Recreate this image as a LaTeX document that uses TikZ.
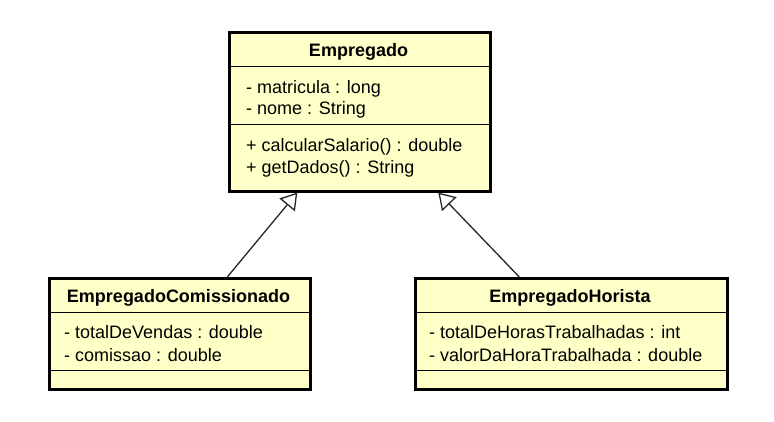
\documentclass[tikz,border=0pt]{standalone}
\usepackage{fontspec}
\setmainfont{Liberation Sans}
\usetikzlibrary{arrows.meta,calc}
\definecolor{classfill}{RGB}{255,255,200}
\tikzset{
  classbox/.style={draw=black, line width=2.6pt, fill=classfill, inner sep=0pt, anchor=north west},
  divider/.style={draw=black, line width=1pt},
  classtitle/.style={font=\fontsize{18}{21}\selectfont\bfseries, anchor=base, inner sep=0pt},
  member/.style={font=\fontsize{18}{21}\selectfont, anchor=base west, inner sep=0pt},
  inherit/.style={draw=black!85, line width=1.3pt, -{Triangle[open, length=16pt, width=20pt, fill=white]}},
}
\begin{document}
\begin{tikzpicture}[x=1pt,y=-1pt]
\path[use as bounding box, fill=white] (0,0) rectangle (774,422);

% Empregado
\node[classbox, minimum width=261pt, minimum height=159pt] (emp) at (228,31) {};
\draw[divider] ($(emp.north west)+(0,36)$) -- ($(emp.north east)+(0,36)$);
\draw[divider] ($(emp.north west)+(0,94)$) -- ($(emp.north east)+(0,94)$);
\node[classtitle] (empT) at (358.5,57) {Empregado};
\node[member] (empA1) at (246,93.5) {- matricula : long};
\node[member] (empA2) at (246,115) {- nome : String};
\node[member] (empM1) at (246,152) {+ calcularSalario() : double};
\node[member] (empM2) at (246,173.5) {+ getDados() : String};

% EmpregadoComissionado
\node[classbox, minimum width=261pt, minimum height=111pt] (ec) at (48,277) {};
\draw[divider] ($(ec.north west)+(0,35)$) -- ($(ec.north east)+(0,35)$);
\draw[divider] ($(ec.north west)+(0,93)$) -- ($(ec.north east)+(0,93)$);
\node[classtitle] (ecT) at (178.5,302) {EmpregadoComissionado};
\node[member] (ecA1) at (64,338) {- totalDeVendas : double};
\node[member] (ecA2) at (64,361) {- comissao : double};

% EmpregadoHorista
\node[classbox, minimum width=312pt, minimum height=111pt] (eh) at (414,277) {};
\draw[divider] ($(eh.north west)+(0,35)$) -- ($(eh.north east)+(0,35)$);
\draw[divider] ($(eh.north west)+(0,93)$) -- ($(eh.north east)+(0,93)$);
\node[classtitle] (ehT) at (570,302) {EmpregadoHorista};
\node[member] (ehA1) at (429,338) {- totalDeHorasTrabalhadas : int};
\node[member] (ehA2) at (429,361) {- valorDaHoraTrabalhada : double};

% generalizations
\draw[inherit] ($(ec.north)+(47.5,0)$) -- ($(emp.south)+(-62.5,0)$);
\draw[inherit] ($(eh.north)+(-52,0)$) -- ($(emp.south)+(78.5,0)$);
\end{tikzpicture}
\end{document}
